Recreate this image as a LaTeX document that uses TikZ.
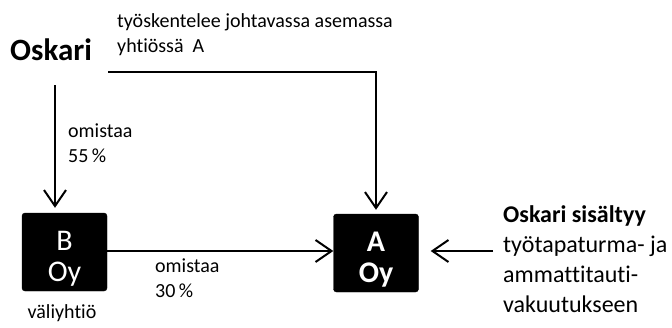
\documentclass[tikz,border=0pt]{standalone}
\usepackage{fontspec}
\setmainfont{Carlito}[Ligatures={NoCommon,NoContextual}]
\usetikzlibrary{arrows.meta}
\tikzset{
  x=1pt, y=1pt,
  conn/.style={line width=2pt, -{Straight Barb[length=16pt,width=22pt,line width=2pt]}},
  cbox/.style={fill=black, draw=black, rounded corners=3pt, minimum width=85pt, minimum height=78pt, inner sep=0pt},
  boxtext/.style={text=white, align=center, inner sep=0pt, font=\fontsize{30}{31}\selectfont},
  small/.style={align=left, inner sep=0pt, font=\fontsize{20}{25}\selectfont},
}
\begin{document}
\begin{tikzpicture}
\useasboundingbox (0,0) rectangle (672,-327);
% nodes
\node[anchor=base west, inner sep=0pt, font=\fontsize{31}{36}\bfseries\selectfont] (osk) at (10,-60) {Oskari};
\node[small, anchor=north west] (lbltop) at (117,-13) {työskentelee johtavassa asemassa\\yhtiössä\ \ A};
\node[cbox] (B) at (64.5,-252) {};
\node[boxtext] (Bt) at ([yshift=-6.5pt]B.center) {B\\Oy};
\node[cbox] (A) at (376,-253) {};
\node[boxtext, font=\fontsize{30}{31}\bfseries\selectfont] (At) at ([yshift=-6.5pt]A.center) {A\\Oy};
\node[small, anchor=north west] (om1) at (68,-124) {omistaa\\55\,\%};
\node[small, anchor=north west] (om2) at (155,-259) {omistaa\\30\,\%};
\node[anchor=base, inner sep=0pt, font=\fontsize{20}{25}\selectfont] (vali) at (62,-318) {väliyhtiö};
\node[anchor=north west, align=left, inner sep=0pt, font=\fontsize{24}{30}\selectfont] (ins) at (503,-205) {\textbf{Oskari sisältyy}\\työtapaturma- ja\\ammattitauti-\\vakuutukseen};
% connectors
\coordinate (o1) at (55,-85);
\coordinate (o2) at (108,-72);
\coordinate (r1) at (493,-251);
\draw[conn, shorten >=5pt] (o1) -- (o1 |- B.north);
\draw[conn, shorten >=4pt] (o2) -| (A.north);
\draw[conn] (B.east |- 0,-251) -- (A.west |- 0,-251);
\draw[conn, shorten >=12pt] (r1) -- (A.east |- r1);
\end{tikzpicture}
\end{document}
